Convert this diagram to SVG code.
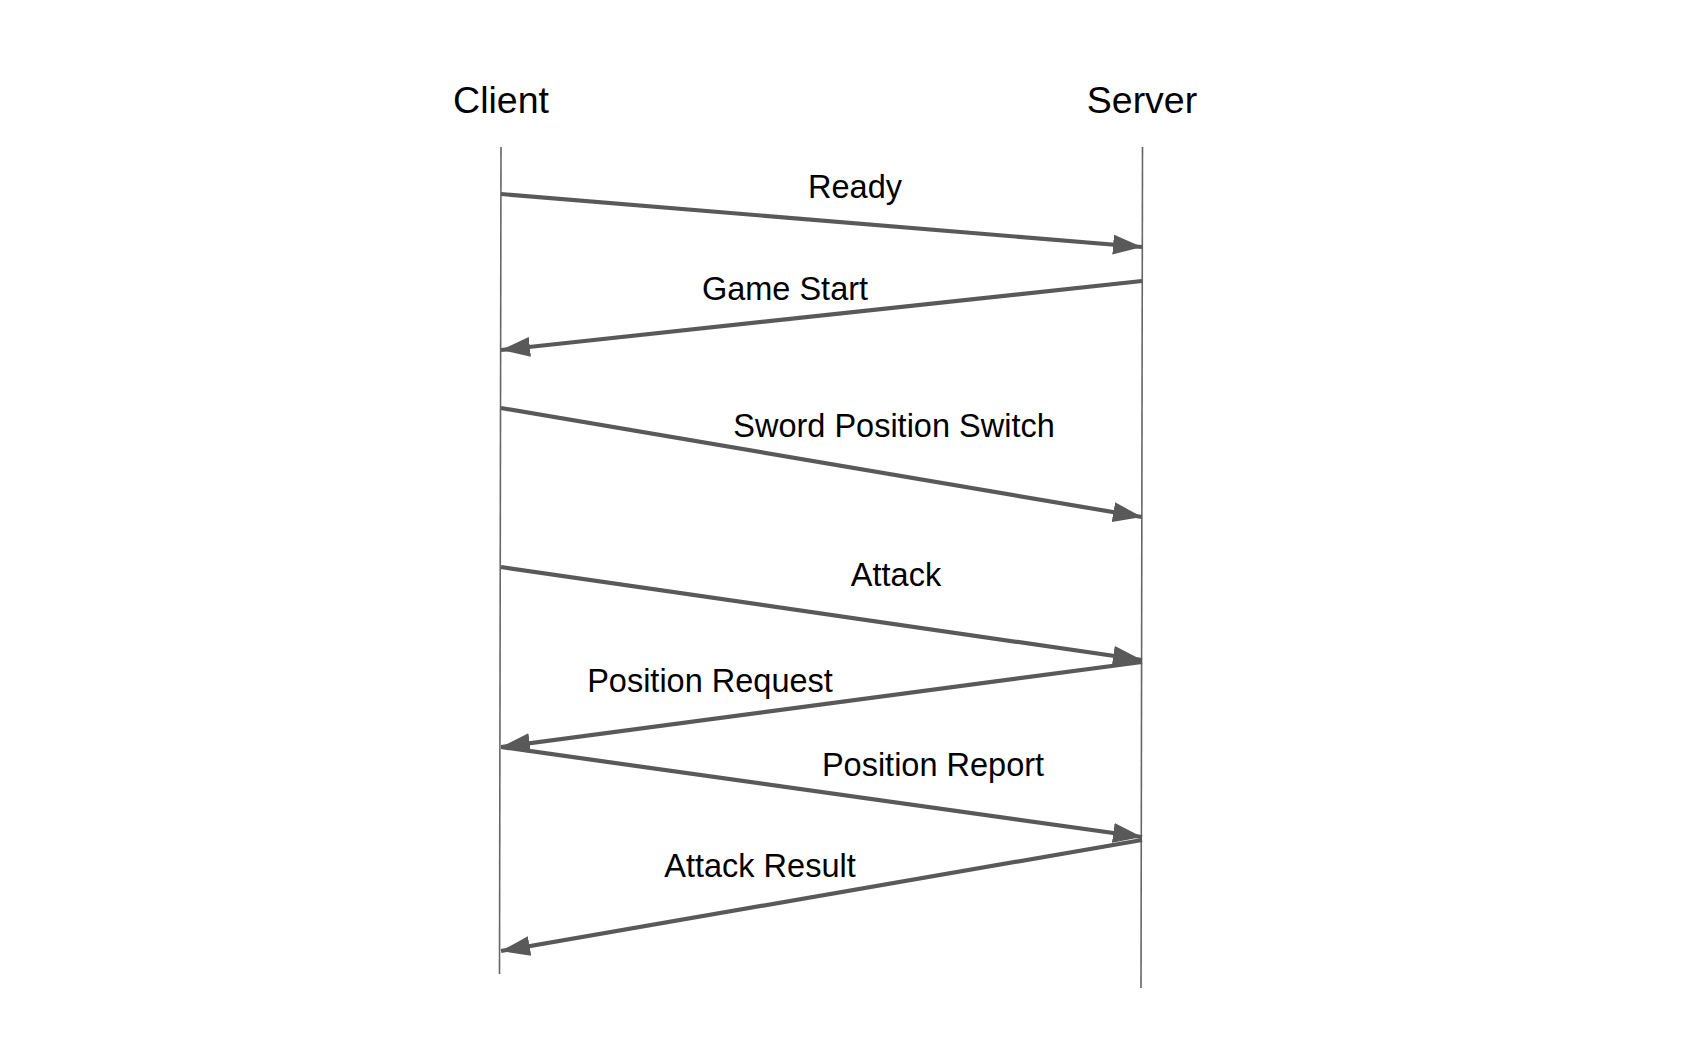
<svg xmlns="http://www.w3.org/2000/svg" width="1708" height="1038" viewBox="0 0 1708 1038">
<style>
.title{font-family:"Liberation Sans",Arial,sans-serif;font-size:37.5px;fill:#000;text-anchor:middle}
.lbl{font-family:"Liberation Sans",Arial,sans-serif;font-size:32.5px;fill:#000;text-anchor:middle}
.life{stroke:#666;stroke-width:1.6;fill:none}
.msg{stroke:#595959;stroke-width:4.2;fill:none;marker-end:url(#ah)}
</style>
<defs>
<marker id="ah" markerUnits="userSpaceOnUse" markerWidth="32" markerHeight="22" refX="29" refY="10" orient="auto" viewBox="0 0 32 22">
<path d="M0,0 L29,10 L0,20 z" fill="#595959"/>
</marker>
</defs>
<rect width="1708" height="1038" fill="#fff"/>
<g id="client">
<text class="title" x="501" y="113">Client</text>
<line class="life" x1="501" y1="147" x2="499.5" y2="974"/>
</g>
<g id="server">
<text class="title" x="1142" y="113">Server</text>
<line class="life" x1="1142.5" y1="147" x2="1141" y2="988"/>
</g>
<g id="connectors">
<line class="msg" x1="501" y1="194" x2="1142" y2="247"/>
<line class="msg" x1="1142" y1="281" x2="501" y2="350"/>
<line class="msg" x1="501" y1="408" x2="1142" y2="517"/>
<line class="msg" x1="501" y1="567" x2="1142" y2="660"/>
<line class="msg" x1="1142" y1="662" x2="501" y2="747"/>
<line class="msg" x1="501" y1="747" x2="1142" y2="837"/>
<line class="msg" x1="1142" y1="840" x2="501" y2="951"/>
</g>
<g id="labels">
<text class="lbl" x="855" y="198">Ready</text>
<text class="lbl" x="785" y="300">Game Start</text>
<text class="lbl" x="894" y="437">Sword Position Switch</text>
<text class="lbl" x="896" y="586">Attack</text>
<text class="lbl" x="710" y="692">Position Request</text>
<text class="lbl" x="933" y="776">Position Report</text>
<text class="lbl" x="760" y="877">Attack Result</text>
</g>
</svg>
